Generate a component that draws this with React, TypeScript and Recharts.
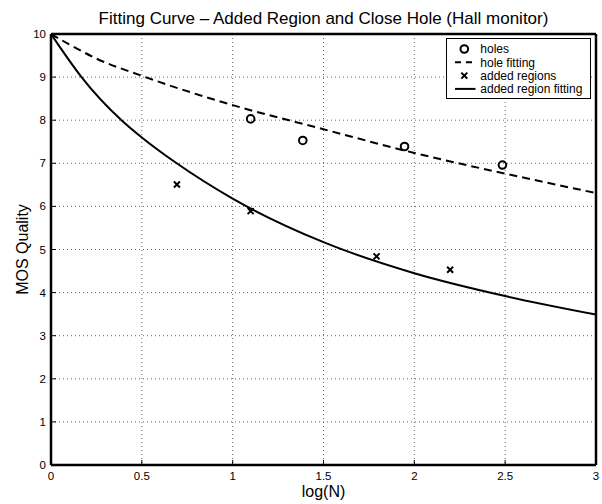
import React from "react";
import { ComposedChart, Line, Scatter, XAxis, YAxis, CartesianGrid, Legend } from "recharts";

const FONT = '"Liberation Sans", Arial, Helvetica, sans-serif';

const X_TICKS = [0, 0.5, 1, 1.5, 2, 2.5, 3];
const Y_TICKS = [0, 1, 2, 3, 4, 5, 6, 7, 8, 9, 10];

// measured points
const HOLES_X = [1.099, 1.386, 1.946, 2.485];
const HOLES_Y = [8.03, 7.53, 7.39, 6.96];
const ADDED_X = [0.693, 1.099, 1.792, 2.197];
const ADDED_Y = [6.51, 5.89, 4.84, 4.53];

// fitted curves
const HOLE_FIT_X = [0, 0.1, 0.25, 0.5, 1, 1.5, 2, 2.5, 3];
const HOLE_FIT_Y = [10, 9.76, 9.43, 9.03, 8.35, 7.79, 7.24, 6.76, 6.31];
const ADDED_FIT_X = [0, 0.05, 0.168, 0.388, 0.5, 0.692, 1, 1.5, 2, 2.5, 3];
const ADDED_FIT_Y = [10, 9.69, 9, 8, 7.6, 7, 6.18, 5.17, 4.45, 3.92, 3.49];

const LEGEND_ITEMS = [
  { label: "holes", kind: "circle" },
  { label: "hole fitting", kind: "dash" },
  { label: "added regions", kind: "cross" },
  { label: "added region fitting", kind: "line" },
];

const TITLE = "Fitting Curve \u2013 Added Region and Close Hole (Hall monitor)";

const zip = (xs: number[], ys: number[]) => xs.map((x, i) => ({ x, y: ys[i] }));

const holes = zip(HOLES_X, HOLES_Y);
const added = zip(ADDED_X, ADDED_Y);
const holeFit = zip(HOLE_FIT_X, HOLE_FIT_Y);
const addedFit = zip(ADDED_FIT_X, ADDED_FIT_Y);

const CircleMark = (props: any) => (
  <circle cx={props.cx} cy={props.cy} r={3.8} fill="none" stroke="#000" strokeWidth={2} />
);

const CrossMark = (props: any) => {
  const { cx, cy } = props;
  const s = 3;
  return (
    <path
      d={`M${cx - s},${cy - s}L${cx + s},${cy + s}M${cx - s},${cy + s}L${cx + s},${cy - s}`}
      stroke="#000"
      strokeWidth={2}
      fill="none"
    />
  );
};

const renderLegend = () => (
  <svg width={146} height={62} style={{ display: "block", fontFamily: FONT }}>
    <rect x={0.5} y={0.5} width={144} height={60} fill="#fff" stroke="#000" strokeWidth={1} />
    {LEGEND_ITEMS.map((item, i) => {
      const cy = 11 + i * 13.3;
      let mark;
      if (item.kind === "circle") mark = <CircleMark cx={18.3} cy={cy} />;
      else if (item.kind === "cross") mark = <CrossMark cx={18.3} cy={cy} />;
      else
        mark = (
          <line
            x1={9}
            x2={29.5}
            y1={cy}
            y2={cy}
            stroke="#000"
            strokeWidth={2}
            strokeDasharray={item.kind === "dash" ? "6 5" : undefined}
          />
        );
      return (
        <g key={item.label}>
          {mark}
          <text x={34.3} y={cy + 4.2} fontSize={12} fill="#000">
            {item.label}
          </text>
        </g>
      );
    })}
  </svg>
);

const axisLine = { stroke: "#000", strokeWidth: 2.5 };
const tickLine = { stroke: "#000", strokeWidth: 1 };
const tickStyle = { fill: "#000", fontSize: 11.5 };

export default function App() {
  return (
    <div
      style={{
        position: "absolute",
        left: 0,
        top: 0,
        width: 602,
        height: 504,
        background: "#fff",
        fontFamily: FONT,
      }}
    >
      <ComposedChart width={602} height={504} margin={{ top: 33, right: 5, bottom: 0, left: 0 }}>
        <CartesianGrid stroke="#666" strokeDasharray="1 3" />
        <XAxis
          type="number"
          dataKey="x"
          domain={[0, 3]}
          ticks={X_TICKS}
          allowDataOverflow
          height={39}
          tickSize={-5}
          tickMargin={12}
          axisLine={axisLine}
          tickLine={tickLine}
          tick={tickStyle}
          label={(p: any) => (
            <text
              x={p.viewBox.x + p.viewBox.width / 2}
              y={p.viewBox.y + 31.5}
              textAnchor="middle"
              fontSize={16}
              fill="#000"
            >
              log(N)
            </text>
          )}
        />
        <XAxis
          xAxisId="top"
          orientation="top"
          type="number"
          domain={[0, 3]}
          ticks={X_TICKS}
          allowDataOverflow
          height={1}
          tick={false}
          tickSize={-5}
          axisLine={axisLine}
          tickLine={tickLine}
          label={(p: any) => (
            <text
              x={p.viewBox.x + p.viewBox.width / 2}
              y={p.viewBox.y + p.viewBox.height - 10.5}
              textAnchor="middle"
              fontSize={17}
              fill="#000"
            >
              {TITLE}
            </text>
          )}
        />
        <YAxis
          type="number"
          dataKey="y"
          domain={[0, 10]}
          ticks={Y_TICKS}
          allowDataOverflow
          width={51}
          tickSize={-5}
          tickMargin={10}
          axisLine={axisLine}
          tickLine={tickLine}
          tick={tickStyle}
          label={(p: any) => {
            const cx = 28;
            const cy = p.viewBox.y + p.viewBox.height / 2;
            return (
              <text
                x={cx}
                y={cy}
                transform={`rotate(-90 ${cx} ${cy})`}
                textAnchor="middle"
                fontSize={16}
                fill="#000"
              >
                MOS Quality
              </text>
            );
          }}
        />
        <YAxis
          yAxisId="right"
          orientation="right"
          type="number"
          domain={[0, 10]}
          ticks={Y_TICKS}
          allowDataOverflow
          width={1}
          tick={false}
          tickSize={-5}
          axisLine={axisLine}
          tickLine={tickLine}
        />
        <Line
          data={holeFit}
          dataKey="y"
          type="monotone"
          stroke="#000"
          strokeWidth={2}
          strokeDasharray="8 5"
          dot={false}
          isAnimationActive={false}
        />
        <Line
          data={addedFit}
          dataKey="y"
          type="monotone"
          stroke="#000"
          strokeWidth={2}
          dot={false}
          isAnimationActive={false}
        />
        <Scatter data={holes} shape={CircleMark} isAnimationActive={false} />
        <Scatter data={added} shape={CrossMark} isAnimationActive={false} />
        <Legend
          content={renderLegend}
          layout="horizontal"
          align="center"
          verticalAlign="middle"
          wrapperStyle={{ position: "absolute", left: 446, top: 38, width: 146, height: 62 }}
        />
      </ComposedChart>
    </div>
  );
}
